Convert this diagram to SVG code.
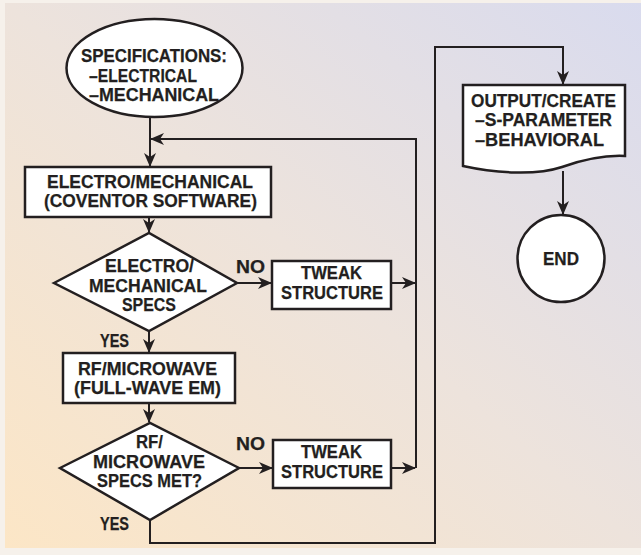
<svg xmlns="http://www.w3.org/2000/svg" width="641" height="555" viewBox="0 0 641 555">
<defs>
<linearGradient id="bg" x1="0" y1="1" x2="1" y2="0">
<stop offset="0" stop-color="#fce6c6"/>
<stop offset="0.5" stop-color="#ede3dc"/>
<stop offset="1" stop-color="#d9dbee"/>
</linearGradient>
<marker id="arr" markerUnits="userSpaceOnUse" markerWidth="14" markerHeight="12" viewBox="0 0 14 12" refX="13" refY="6" orient="auto">
<path d="M0,0 L14,6 L0,12 L4,6 z" fill="#231f20"/>
</marker>
<style>
.shape{fill:#ffffff;stroke:#231f20;stroke-width:2.5}
.ln{fill:none;stroke:#231f20;stroke-width:2}
.t{font-family:"Liberation Sans",Arial,sans-serif;font-weight:bold;font-size:19px;fill:#231f20;stroke:#231f20;stroke-width:0.25}
</style>
</defs>
<rect x="0" y="0" width="641" height="555" fill="#f6f1eb"/>
<rect x="5" y="3" width="636" height="545" fill="url(#bg)"/>

<g id="connectors">
<path class="ln" d="M150,118 V166" marker-end="url(#arr)"/>
<path class="ln" d="M416,468 V139 H151" marker-end="url(#arr)"/>
<path class="ln" d="M149,218 V232" marker-end="url(#arr)"/>
<path class="ln" d="M237,283 H271" marker-end="url(#arr)"/>
<path class="ln" d="M391,283 H415" marker-end="url(#arr)"/>
<path class="ln" d="M149,331 V352" marker-end="url(#arr)"/>
<path class="ln" d="M149,404 V422" marker-end="url(#arr)"/>
<path class="ln" d="M239,468 H272" marker-end="url(#arr)"/>
<path class="ln" d="M391,468 H415" marker-end="url(#arr)"/>
<path class="ln" d="M150,520 V543 H435 V47 H563 V84" marker-end="url(#arr)"/>
<path class="ln" d="M563,171 V214" marker-end="url(#arr)"/>
</g>

<g id="spec">
<ellipse class="shape" cx="154.5" cy="68" rx="88" ry="49"/>
<text class="t" x="81" y="62" textLength="146" lengthAdjust="spacingAndGlyphs">SPECIFICATIONS:</text>
<text class="t" x="89" y="82" textLength="108" lengthAdjust="spacingAndGlyphs">–ELECTRICAL</text>
<text class="t" x="89" y="101" textLength="130" lengthAdjust="spacingAndGlyphs">–MECHANICAL</text>
</g>

<g id="electromech">
<rect class="shape" x="25" y="167" width="246" height="50"/>
<text class="t" x="47" y="188" textLength="206" lengthAdjust="spacingAndGlyphs">ELECTRO/MECHANICAL</text>
<text class="t" x="44" y="207" textLength="213" lengthAdjust="spacingAndGlyphs">(COVENTOR SOFTWARE)</text>
</g>

<g id="decision1">
<polygon class="shape" points="54,283 149,233 237,283 149,331"/>
<text class="t" x="105" y="272" textLength="89" lengthAdjust="spacingAndGlyphs">ELECTRO/</text>
<text class="t" x="89" y="292" textLength="118" lengthAdjust="spacingAndGlyphs">MECHANICAL</text>
<text class="t" x="122" y="311" textLength="54" lengthAdjust="spacingAndGlyphs">SPECS</text>
</g>

<g id="label-no1"><text class="t" x="236" y="273" textLength="29" lengthAdjust="spacingAndGlyphs">NO</text></g>
<g id="label-yes1"><text class="t" x="100" y="347" textLength="29" lengthAdjust="spacingAndGlyphs">YES</text></g>

<g id="tweak1">
<rect class="shape" x="272" y="261" width="119" height="48"/>
<text class="t" x="301" y="279" textLength="61" lengthAdjust="spacingAndGlyphs">TWEAK</text>
<text class="t" x="281" y="299" textLength="102" lengthAdjust="spacingAndGlyphs">STRUCTURE</text>
</g>

<g id="rfmicro">
<rect class="shape" x="63" y="353" width="172" height="50"/>
<text class="t" x="78" y="375" textLength="139" lengthAdjust="spacingAndGlyphs">RF/MICROWAVE</text>
<text class="t" x="74" y="394" textLength="147" lengthAdjust="spacingAndGlyphs">(FULL-WAVE EM)</text>
</g>

<g id="decision2">
<polygon class="shape" points="60,468 150,423 239,468 150,520"/>
<text class="t" x="136" y="448" textLength="27" lengthAdjust="spacingAndGlyphs">RF/</text>
<text class="t" x="93" y="468" textLength="112" lengthAdjust="spacingAndGlyphs">MICROWAVE</text>
<text class="t" x="97" y="487" textLength="105" lengthAdjust="spacingAndGlyphs">SPECS MET?</text>
</g>

<g id="label-no2"><text class="t" x="236" y="450" textLength="29" lengthAdjust="spacingAndGlyphs">NO</text></g>
<g id="label-yes2"><text class="t" x="100" y="530" textLength="29" lengthAdjust="spacingAndGlyphs">YES</text></g>

<g id="tweak2">
<rect class="shape" x="273" y="440" width="118" height="48"/>
<text class="t" x="301" y="458" textLength="61" lengthAdjust="spacingAndGlyphs">TWEAK</text>
<text class="t" x="281" y="478" textLength="102" lengthAdjust="spacingAndGlyphs">STRUCTURE</text>
</g>

<g id="output">
<path class="shape" d="M463,85 H625 V156 C605,155 585,159 562,167 C535,176 495,173 463,166 Z"/>
<text class="t" x="471" y="107" textLength="145" lengthAdjust="spacingAndGlyphs">OUTPUT/CREATE</text>
<text class="t" x="475" y="126" textLength="137" lengthAdjust="spacingAndGlyphs">–S-PARAMETER</text>
<text class="t" x="475" y="146" textLength="129" lengthAdjust="spacingAndGlyphs">–BEHAVIORAL</text>
</g>

<g id="end">
<circle class="shape" cx="561" cy="258.5" r="43.5"/>
<text class="t" x="543" y="265" textLength="36" lengthAdjust="spacingAndGlyphs">END</text>
</g>
</svg>
